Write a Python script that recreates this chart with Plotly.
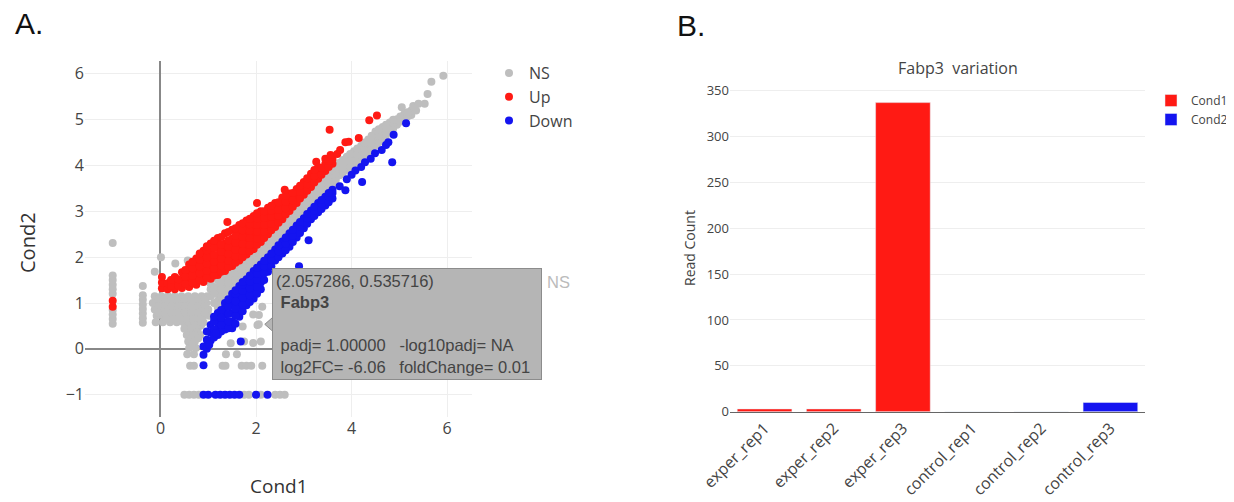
import plotly.graph_objects as go

# The page body has an 8px margin, so the figure is drawn 8px in from the window corner.
OFF = 8
W, H = 1234 - OFF, 502 - OFF

# ---------------- Panel A data (Cond1 vs Cond2) ----------------
ns_points = [
    # column at x = -1
    (-1.0, 0.55), (-1.0, 0.65), (-1.0, 0.75), (-1.0, 0.85), (-1.0, 1.2), (-1.0, 1.3),
    (-1.0, 1.4), (-1.0, 1.5), (-1.0, 1.6), (-1.0, 2.31),
    # column at x = -0.37
    (-0.37, 0.57), (-0.37, 0.67), (-0.37, 0.77), (-0.37, 0.87), (-0.37, 0.97),
    (-0.37, 1.07), (-0.37, 1.17), (-0.37, 1.37),
    # upper-left scatter
    (-0.12, 1.68), (0.01, 2.0), (0.31, 1.86), (0.57, 1.93),
    # left blob
    (-0.12, 1.15), (0.02, 1.15), (0.16, 1.15), (0.3, 1.15), (0.44, 1.15), (0.58, 1.15), (0.72, 1.15), (0.86, 1.15), (0.98, 1.15),
    (-0.16, 1.0), (-0.02, 1.0), (0.12, 1.0), (0.26, 1.0), (0.4, 1.0), (0.54, 1.0), (0.68, 1.0), (0.82, 1.0), (0.96, 1.0),
    (-0.12, 0.86), (0.02, 0.86), (0.16, 0.86), (0.3, 0.86), (0.44, 0.86), (0.58, 0.86), (0.72, 0.86), (0.86, 0.86), (1.0, 0.86),
    (-0.08, 0.72), (0.06, 0.72), (0.2, 0.72), (0.34, 0.72), (0.48, 0.72), (0.62, 0.72), (0.76, 0.72), (0.9, 0.72), (1.02, 0.72),
    (-0.1, 0.58), (0.05, 0.58), (0.2, 0.58), (0.34, 0.58), (0.48, 0.58), (0.62, 0.58), (0.76, 0.58), (0.9, 0.58),
    (-0.05, 1.08), (0.09, 1.08), (0.23, 1.08), (0.37, 1.08), (0.51, 1.08), (0.65, 1.08), (0.79, 1.08), (0.93, 1.08),
    (-0.05, 0.93), (0.09, 0.93), (0.23, 0.93), (0.37, 0.93), (0.51, 0.93), (0.65, 0.93), (0.79, 0.93), (0.93, 0.93),
    (-0.05, 0.79), (0.09, 0.79), (0.23, 0.79), (0.37, 0.79), (0.51, 0.79), (0.65, 0.79), (0.79, 0.79), (0.93, 0.79),
    (0.13, 0.65), (0.27, 0.65), (0.41, 0.65), (0.55, 0.65), (0.69, 0.65), (0.83, 0.65),
    (0.57, 0.51), (0.71, 0.51), (0.85, 0.51),
    (0.5, 0.44), (0.64, 0.44), (0.78, 0.44),
    (0.62, 0.37), (0.76, 0.37),
    (0.55, 0.3), (0.69, 0.3), (0.83, 0.3),
    (0.65, 0.23), (0.79, 0.23),
    (0.58, 0.16), (0.72, 0.16),
    (0.6, 0.02), (0.74, 0.02), (0.66, 0.09),
    (0.56, -0.12), (0.7, -0.12), (1.37, -0.12), (1.6, -0.12),
    # diagonal band
    (1.05, 1.15), (1.05, 1.3), (1.05, 1.42),
    (1.2, 0.9), (1.2, 1.05), (1.2, 1.2), (1.2, 1.35), (1.2, 1.5),
    (1.35, 1.05), (1.35, 1.2), (1.35, 1.35), (1.35, 1.5), (1.35, 1.6),
    (1.5, 1.25), (1.5, 1.4), (1.5, 1.55), (1.5, 1.7),
    (1.65, 1.4), (1.65, 1.55), (1.65, 1.7), (1.65, 1.82),
    (1.8, 1.55), (1.8, 1.7), (1.8, 1.85), (1.8, 1.97),
    (1.95, 1.72), (1.95, 1.87), (1.95, 2.02), (1.95, 2.1),
    (2.1, 1.88), (2.1, 2.03), (2.1, 2.18), (2.1, 2.25),
    (2.25, 2.05), (2.25, 2.2), (2.25, 2.35), (2.25, 2.42),
    (2.4, 2.22), (2.4, 2.37), (2.4, 2.52), (2.4, 2.57),
    (2.55, 2.4), (2.55, 2.55), (2.55, 2.7), (2.55, 2.75),
    (2.7, 2.58), (2.7, 2.73), (2.7, 2.88), (2.7, 2.92),
    (2.85, 2.75), (2.85, 2.9), (2.85, 3.05), (2.85, 3.1),
    (3.0, 2.92), (3.0, 3.07), (3.0, 3.22), (3.0, 3.28),
    (3.15, 3.08), (3.15, 3.23), (3.15, 3.38), (3.15, 3.47),
    (3.3, 3.25), (3.3, 3.4), (3.3, 3.55), (3.3, 3.65),
    (3.45, 3.42), (3.45, 3.56), (3.45, 3.7),
    (3.6, 3.59), (3.6, 3.73), (3.6, 3.87),
    (3.75, 3.79), (3.75, 3.93), (3.75, 4.06),
    (3.9, 3.91), (3.9, 4.05), (3.9, 4.19),
    (4.05, 4.04), (4.05, 4.18), (4.05, 4.31),
    (4.2, 4.17), (4.2, 4.3), (4.2, 4.43),
    (4.35, 4.29), (4.35, 4.43), (4.35, 4.57),
    (4.5, 4.44), (4.5, 4.59), (4.5, 4.74),
    (4.65, 4.59), (4.65, 4.72), (4.65, 4.84),
    (4.8, 4.74), (4.8, 4.86), (4.8, 4.94),
    (4.95, 4.89), (4.95, 5.01),
    (5.1, 5.04), (5.1, 5.12),
    (5.25, 5.1), (5.25, 5.2),
    # diagonal band, in-between columns
    (1.12, 1.0), (1.12, 1.2), (1.12, 1.35),
    (1.27, 1.0), (1.27, 1.15), (1.27, 1.3), (1.27, 1.45),
    (1.42, 1.15), (1.42, 1.3), (1.42, 1.45), (1.42, 1.6),
    (1.57, 1.35), (1.57, 1.5), (1.57, 1.65), (1.57, 1.76),
    (1.72, 1.5), (1.72, 1.65), (1.72, 1.78), (1.72, 1.9),
    (1.87, 1.65), (1.87, 1.8), (1.87, 1.93), (1.87, 2.03),
    (2.02, 1.82), (2.02, 1.96), (2.02, 2.1), (2.02, 2.17),
    (2.17, 1.97), (2.17, 2.11), (2.17, 2.25), (2.17, 2.33),
    (2.32, 2.15), (2.32, 2.29), (2.32, 2.43), (2.32, 2.5),
    (2.47, 2.32), (2.47, 2.46), (2.47, 2.6), (2.47, 2.66),
    (2.62, 2.5), (2.62, 2.64), (2.62, 2.78), (2.62, 2.84),
    (2.77, 2.67), (2.77, 2.81), (2.77, 2.95), (2.77, 3.01),
    (2.92, 2.84), (2.92, 2.98), (2.92, 3.12), (2.92, 3.19),
    (3.07, 3.0), (3.07, 3.15), (3.07, 3.3), (3.07, 3.37),
    (3.22, 3.17), (3.22, 3.32), (3.22, 3.46), (3.22, 3.56),
    (3.37, 3.34), (3.37, 3.48), (3.37, 3.62), (3.37, 3.74),
    (3.52, 3.5), (3.52, 3.64), (3.52, 3.78), (3.52, 3.9),
    (3.67, 3.69), (3.67, 3.83), (3.67, 3.96),
    (3.82, 3.85), (3.82, 3.99), (3.82, 4.12),
    (3.97, 3.97), (3.97, 4.11), (3.97, 4.25),
    (4.12, 4.1), (4.12, 4.24), (4.12, 4.37),
    (4.27, 4.23), (4.27, 4.36), (4.27, 4.5),
    (4.42, 4.36), (4.42, 4.5), (4.42, 4.65),
    (4.57, 4.51), (4.57, 4.65), (4.57, 4.79),
    (4.72, 4.66), (4.72, 4.79), (4.72, 4.89),
    (4.87, 4.81), (4.87, 4.93), (4.87, 5.0),
    (5.02, 4.96), (5.02, 5.07),
    (5.17, 5.07), (5.17, 5.16),
    # top outliers
    (5.05, 5.27), (5.29, 5.3), (5.35, 5.2), (5.4, 5.35), (5.53, 5.35), (5.59, 5.56), (5.67, 5.83), (5.92, 5.96),
    # scatter right of the Down group
    (1.72, 0.49), (2.03, 0.52), (2.057286, 0.535716), (2.13, 0.92), (2.1, 0.16), (1.75, 0.16),
    (2.06, 0.74), (1.94, 0.75), (1.47, 0.12), (1.94, 0.13),
    # row near -0.37
    (0.62, -0.37), (0.7, -0.37), (1.3, -0.37), (1.36, -0.37), (1.7, -0.37), (1.8, -0.37), (1.9, -0.37), (2.13, -0.37),
    # row at -1
    (0.5, -1.0), (0.6, -1.0), (0.7, -1.0), (0.8, -1.0), (1.75, -1.0), (1.85, -1.0), (2.1, -1.0),
    (2.4, -1.0), (2.5, -1.0), (2.6, -1.0),
]

up_points = [
    (-1.0, 0.92), (-1.0, 1.05),
    (0.03, 1.32), (0.03, 1.45), (0.03, 1.57),
    (0.15, 1.3), (0.15, 1.43),
    (0.3, 1.3), (0.3, 1.43), (0.3, 1.57),
    (0.45, 1.33), (0.45, 1.5), (0.45, 1.67),
    (0.6, 1.35), (0.6, 1.5), (0.6, 1.65), (0.6, 1.84),
    (0.75, 1.4), (0.75, 1.55), (0.75, 1.7), (0.75, 1.85), (0.75, 1.97),
    (0.9, 1.46), (0.9, 1.6), (0.9, 1.75), (0.9, 1.9), (0.9, 2.02), (0.9, 2.14),
    (1.05, 1.53), (1.05, 1.67), (1.05, 1.82), (1.05, 1.97), (1.05, 2.12), (1.05, 2.3),
    (1.2, 1.61), (1.2, 1.75), (1.2, 1.9), (1.2, 2.05), (1.2, 2.2), (1.2, 2.3), (1.2, 2.42),
    (1.35, 1.7), (1.35, 1.85), (1.35, 2.0), (1.35, 2.15), (1.35, 2.3), (1.35, 2.52),
    (1.5, 1.81), (1.5, 1.95), (1.5, 2.1), (1.5, 2.25), (1.5, 2.4), (1.5, 2.6),
    (1.65, 1.93), (1.65, 2.07), (1.65, 2.22), (1.65, 2.37), (1.65, 2.52), (1.65, 2.7),
    (1.8, 2.06), (1.8, 2.2), (1.8, 2.35), (1.8, 2.5), (1.8, 2.65), (1.8, 2.8),
    (1.95, 2.18), (1.95, 2.32), (1.95, 2.47), (1.95, 2.62), (1.95, 2.77), (1.95, 2.9),
    (2.1, 2.33), (2.1, 2.47), (2.1, 2.62), (2.1, 2.77), (2.1, 2.9), (2.1, 3.0),
    (2.25, 2.5), (2.25, 2.64), (2.25, 2.78), (2.25, 2.93), (2.25, 3.08),
    (2.4, 2.66), (2.4, 2.8), (2.4, 2.95), (2.4, 3.08), (2.4, 3.18),
    (2.55, 2.83), (2.55, 2.97), (2.55, 3.12), (2.55, 3.3),
    (2.7, 3.01), (2.7, 3.15), (2.7, 3.28), (2.7, 3.39),
    (2.85, 3.18), (2.85, 3.32), (2.85, 3.49),
    (3.0, 3.36), (3.0, 3.5), (3.0, 3.64),
    (3.15, 3.53), (3.15, 3.67), (3.15, 3.82),
    (3.3, 3.71), (3.3, 3.85), (3.3, 3.97),
    (3.45, 3.88), (3.45, 4.04),
    (3.6, 4.04), (3.6, 4.14),
    # in-between columns
    (0.22, 1.37), (0.22, 1.5),
    (0.37, 1.38), (0.37, 1.52),
    (0.52, 1.42), (0.52, 1.58), (0.52, 1.72),
    (0.67, 1.45), (0.67, 1.6), (0.67, 1.76), (0.67, 1.9),
    (0.82, 1.5), (0.82, 1.65), (0.82, 1.8), (0.82, 1.95), (0.82, 2.08),
    (0.97, 1.55), (0.97, 1.7), (0.97, 1.85), (0.97, 2.0), (0.97, 2.15), (0.97, 2.24),
    (1.12, 1.6), (1.12, 1.75), (1.12, 1.9), (1.12, 2.05), (1.12, 2.2), (1.12, 2.36),
    (1.27, 1.68), (1.27, 1.82), (1.27, 1.97), (1.27, 2.12), (1.27, 2.27), (1.27, 2.44),
    (1.42, 1.78), (1.42, 1.92), (1.42, 2.07), (1.42, 2.22), (1.42, 2.37), (1.42, 2.55),
    (1.57, 1.88), (1.57, 2.02), (1.57, 2.17), (1.57, 2.32), (1.57, 2.47), (1.57, 2.63),
    (1.72, 2.0), (1.72, 2.14), (1.72, 2.29), (1.72, 2.44), (1.72, 2.59), (1.72, 2.74),
    (1.87, 2.13), (1.87, 2.27), (1.87, 2.42), (1.87, 2.57), (1.87, 2.72), (1.87, 2.84),
    (2.02, 2.27), (2.02, 2.41), (2.02, 2.56), (2.02, 2.71), (2.02, 2.85), (2.02, 2.96),
    (2.17, 2.42), (2.17, 2.56), (2.17, 2.71), (2.17, 2.86), (2.17, 3.0),
    (2.32, 2.59), (2.32, 2.73), (2.32, 2.88), (2.32, 3.02), (2.32, 3.12),
    (2.47, 2.75), (2.47, 2.9), (2.47, 3.04), (2.47, 3.2),
    (2.62, 2.93), (2.62, 3.07), (2.62, 3.21), (2.62, 3.34),
    (2.77, 3.1), (2.77, 3.24), (2.77, 3.4),
    (2.92, 3.28), (2.92, 3.42), (2.92, 3.56),
    (3.07, 3.45), (3.07, 3.59), (3.07, 3.72),
    (3.22, 3.63), (3.22, 3.77), (3.22, 3.9),
    (3.37, 3.8), (3.37, 3.95),
    (3.52, 3.97), (3.52, 4.1),
    # outliers
    (1.4, 2.77), (2.02, 3.18), (2.6, 3.47), (3.26, 4.08), (3.45, 4.15), (3.56, 4.23), (3.7, 4.25),
    (3.76, 4.34), (3.87, 4.51), (3.94, 4.52), (4.15, 4.6), (3.54, 4.78), (4.37, 4.99), (4.53, 5.09),
]

down_points = [
    (0.9, -0.36), (0.9, -0.13), (0.9, 0.05),
    (1.05, 0.18), (1.05, 0.35), (1.05, 0.52),
    (1.2, 0.3), (1.2, 0.45), (1.2, 0.6), (1.2, 0.78),
    (1.35, 0.42), (1.35, 0.58), (1.35, 0.75), (1.35, 0.9), (1.35, 1.0),
    (1.5, 0.45), (1.5, 0.6), (1.5, 0.78), (1.5, 0.95), (1.5, 1.1), (1.5, 1.2),
    (1.65, 0.7), (1.65, 0.85), (1.65, 1.0), (1.65, 1.15), (1.65, 1.3), (1.65, 1.37),
    (1.8, 0.95), (1.8, 1.1), (1.8, 1.25), (1.8, 1.4), (1.8, 1.52),
    (1.95, 1.1), (1.95, 1.25), (1.95, 1.4), (1.95, 1.55), (1.95, 1.7),
    (2.1, 1.3), (2.1, 1.45), (2.1, 1.6), (2.1, 1.75), (2.1, 1.84),
    (2.25, 1.68), (2.25, 1.84), (2.25, 2.0),
    (2.4, 1.93), (2.4, 2.05), (2.4, 2.17),
    (2.55, 2.08), (2.55, 2.22), (2.55, 2.34),
    (2.7, 2.23), (2.7, 2.37), (2.7, 2.52),
    (2.85, 2.43), (2.85, 2.57), (2.85, 2.69),
    (3.0, 2.63), (3.0, 2.75), (3.0, 2.85),
    (3.15, 2.83), (3.15, 2.95), (3.15, 3.02),
    (3.3, 2.98), (3.3, 3.1), (3.3, 3.18),
    (3.45, 3.13), (3.45, 3.25), (3.45, 3.32),
    (3.6, 3.28), (3.6, 3.4), (3.6, 3.47),
    # in-between columns
    (0.97, 0.0), (0.97, 0.2), (0.97, 0.38),
    (1.12, 0.25), (1.12, 0.42), (1.12, 0.6), (1.12, 0.7),
    (1.27, 0.38), (1.27, 0.52), (1.27, 0.68), (1.27, 0.85),
    (1.42, 0.45), (1.42, 0.6), (1.42, 0.76), (1.42, 0.92), (1.42, 1.08),
    (1.57, 0.55), (1.57, 0.72), (1.57, 0.88), (1.57, 1.04), (1.57, 1.2), (1.57, 1.28),
    (1.72, 0.82), (1.72, 0.97), (1.72, 1.12), (1.72, 1.27), (1.72, 1.4), (1.72, 1.46),
    (1.87, 1.02), (1.87, 1.17), (1.87, 1.32), (1.87, 1.47), (1.87, 1.6),
    (2.02, 1.2), (2.02, 1.35), (2.02, 1.5), (2.02, 1.65), (2.02, 1.77),
    (2.17, 1.5), (2.17, 1.65), (2.17, 1.8), (2.17, 1.92),
    (2.32, 1.8), (2.32, 1.95), (2.32, 2.08),
    (2.47, 2.0), (2.47, 2.13), (2.47, 2.26),
    (2.62, 2.15), (2.62, 2.3), (2.62, 2.43),
    (2.77, 2.33), (2.77, 2.47), (2.77, 2.6),
    (2.92, 2.53), (2.92, 2.66), (2.92, 2.77),
    (3.07, 2.73), (3.07, 2.85), (3.07, 2.94),
    (3.22, 2.9), (3.22, 3.02), (3.22, 3.1),
    (3.37, 3.05), (3.37, 3.17), (3.37, 3.25),
    (3.52, 3.2), (3.52, 3.32), (3.52, 3.4),
    # sparse upper part and outliers
    (3.75, 3.55), (3.87, 3.46), (3.9, 3.7), (4.0, 3.8), (4.08, 3.89), (4.2, 3.97), (4.22, 3.64),
    (4.28, 4.07), (4.4, 4.15), (4.49, 4.27), (4.63, 4.34), (4.72, 4.45), (4.77, 4.51), (4.88, 4.67),
    (4.85, 4.07), (5.14, 4.92), (3.1, 2.37), (2.9, 1.8), (1.68, 0.16), (1.02, 0.09), (1.16, 0.34),
    # row at -1
    (0.9, -1.0), (1.0, -1.0), (1.15, -1.0), (1.25, -1.0), (1.35, -1.0), (1.45, -1.0),
    (1.55, -1.0), (1.65, -1.0), (2.0, -1.0), (2.24, -1.0),
]

ns_x = [p[0] for p in ns_points]
ns_y = [p[1] for p in ns_points]
up_x = [p[0] for p in up_points]
up_y = [p[1] for p in up_points]
down_x = [p[0] for p in down_points]
down_y = [p[1] for p in down_points]

# hovered gene (tooltip)
hover_gene = "Fabp3"
hover_x = 2.057286
hover_y = 0.535716
hover_padj = "1.00000"
hover_log10padj = "NA"
hover_log2fc = "-6.06"
hover_fc = "0.01"
hover_group = "NS"

# ---------------- Panel B data ----------------
cond1_samples = ["exper_rep1", "exper_rep2", "exper_rep3"]
cond1_counts = [3, 3, 337]
cond2_samples = ["control_rep1", "control_rep2", "control_rep3"]
cond2_counts = [0, 0, 10]

GRAY = "#bebebe"
RED = "#ff1a14"
BLUE = "#1414f0"

fig = go.Figure()
mk = 8
fig.add_trace(go.Scatter(x=ns_x, y=ns_y, mode="markers", name="NS",
                         marker=dict(color=GRAY, size=mk), xaxis="x", yaxis="y", legend="legend"))
fig.add_trace(go.Scatter(x=up_x, y=up_y, mode="markers", name="Up",
                         marker=dict(color=RED, size=mk), xaxis="x", yaxis="y", legend="legend"))
fig.add_trace(go.Scatter(x=down_x, y=down_y, mode="markers", name="Down",
                         marker=dict(color=BLUE, size=mk), xaxis="x", yaxis="y", legend="legend"))

fig.add_trace(go.Bar(x=cond1_samples, y=cond1_counts, name="Cond1", marker_color=RED,
                     xaxis="x2", yaxis="y2", legend="legend2"))
fig.add_trace(go.Bar(x=cond2_samples, y=cond2_counts, name="Cond2", marker_color=BLUE,
                     xaxis="x2", yaxis="y2", legend="legend2"))

def px_x(p):
    return (p - OFF) / W

def px_y(p):
    return 1 - (p - OFF) / H

OS = "Open Sans"
AR = "Liberation Sans"

fig.update_layout(
    width=W, height=H,
    margin=dict(l=0, r=0, t=0, b=0, autoexpand=False),
    paper_bgcolor="white", plot_bgcolor="white",
    barmode="overlay", bargap=0.21,
    showlegend=True,
    xaxis=dict(domain=[px_x(85), px_x(472)], range=[-1.58, 6.52], anchor="y",
               tickvals=[0, 2, 4, 6], showgrid=True, gridcolor="#eeeeee",
               zeroline=True, zerolinecolor="#888888", zerolinewidth=1.5,
               tickfont=dict(family=OS, size=16, color="#444")),
    yaxis=dict(domain=[px_y(416.7), px_y(61)], range=[-1.48, 6.28], anchor="x",
               dtick=1, showgrid=True, gridcolor="#eeeeee",
               zeroline=True, zerolinecolor="#888888", zerolinewidth=1.5,
               tickfont=dict(family=OS, size=16, color="#444")),
    xaxis2=dict(domain=[px_x(730), px_x(1145)], anchor="y2", type="category",
                categoryorder="array", categoryarray=cond1_samples + cond2_samples,
                tickangle=-45, showgrid=False, showline=True, linecolor="#666", linewidth=1,
                tickfont=dict(family=OS, size=16, color="#444")),
    yaxis2=dict(domain=[px_y(411.7), px_y(86.1)], range=[0, 355], anchor="x2",
                dtick=50, showgrid=True, gridcolor="#eeeeee", zeroline=False,
                tickfont=dict(family=OS, size=13, color="#444")),
    legend=dict(x=px_x(489), y=px_y(56), xanchor="left", yanchor="top",
                font=dict(family=OS, size=16, color="#444"), bgcolor="rgba(0,0,0,0)",
                tracegroupgap=0),
    legend2=dict(x=px_x(1151), y=px_y(86), xanchor="left", yanchor="top",
                 font=dict(family=OS, size=12, color="#444"), bgcolor="rgba(0,0,0,0)",
                 tracegroupgap=0),
)

sp = "&nbsp;"
tip_text = (f"({hover_x:.6f}, {hover_y:.6f})<br>{sp}<b>{hover_gene}</b><br>{sp}<br>"
            f"{sp}padj= {hover_padj}{sp*3}-log10padj= {hover_log10padj}<br>"
            f"{sp}log2FC= {hover_log2fc}{sp*3}foldChange= {hover_fc}")

def label(text, x, y, size, color, family=OS, angle=0, xanchor="center"):
    return dict(text=text, x=px_x(x), y=px_y(y), xref="paper", yref="paper",
                xanchor=xanchor, yanchor="middle", textangle=angle, showarrow=False,
                font=dict(family=family, size=size, color=color))

annotations = [
    label("A.", 13, 24, 30, "#111", family=AR, xanchor="left"),
    label("B.", 675, 25, 30, "#111", family=AR, xanchor="left"),
    label("Cond2", 27, 243, 20, "#333", angle=-90),
    label("Cond1", 279, 486, 19, "#333"),
    label("Read Count", 690, 248, 14, "#444", angle=-90),
    label(f"{hover_gene}{sp} variation", 958, 68, 16, "#444"),
    label(hover_group, 545, 282, 16.5, "#bbbbbb", family=AR, xanchor="left"),
    dict(text=tip_text, x=hover_x, y=hover_y, xref="x", yref="y", xanchor="left", yanchor="middle",
         xshift=13, showarrow=False, align="left", width=262,
         bgcolor="#b5b5b5", bordercolor="#8c8c8c", borderwidth=1, borderpad=3,
         font=dict(family=AR, size=16.5, color="#444")),
]
fig.update_layout(annotations=annotations)

fig.add_shape(type="path", xref="x", yref="y", xsizemode="pixel", ysizemode="pixel",
              xanchor=hover_x, yanchor=hover_y, path="M 6 0 L 14 7 L 14 -7 Z",
              fillcolor="#b5b5b5", line=dict(color="#8c8c8c", width=1), layer="above")

fig.write_html("out.html")
